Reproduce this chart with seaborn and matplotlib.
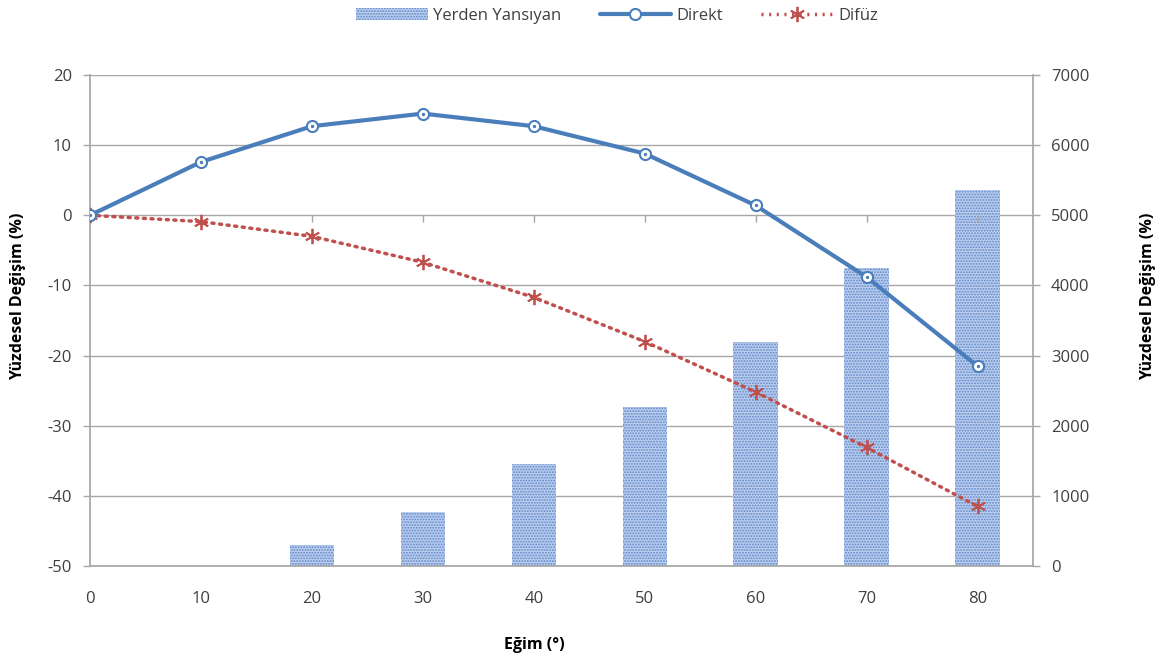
import matplotlib
matplotlib.use("Agg")
import matplotlib.pyplot as plt
import seaborn as sns
import numpy as np
import pandas as pd
from matplotlib.patches import Patch
from matplotlib.lines import Line2D

# ---- data ----
angles = [0, 10, 20, 30, 40, 50, 60, 70, 80]
direkt = [0, 7.6, 12.7, 14.5, 12.7, 8.8, 1.4, -8.8, -21.5]
difuz = [0, -0.9, -3.0, -6.7, -11.7, -18.0, -25.2, -33.1, -41.5]
yansiyan = [0, 0, 300, 770, 1450, 2270, 3190, 4250, 5360]
left_ticks = [20, 10, 0, -10, -20, -30, -40, -50]
right_ticks = [7000, 6000, 5000, 4000, 3000, 2000, 1000, 0]

sns.set_theme(style="white")
plt.rcParams['font.family'] = ['Open Sans', 'DejaVu Sans']
plt.rcParams['axes.unicode_minus'] = False
plt.rcParams['hatch.linewidth'] = 0.9

BLUE = "#4a7ebb"
RED = "#c0504d"
GRID = "#a6a6a6"
TXT = "#404040"
BARFACE = "#bccdec"
BARHATCH = "#5b88cc"

fig = plt.figure(figsize=(11.70, 6.63), dpi=100)
ax = fig.add_axes([90/1170, 1-566/663, (1033-90)/1170, (566-75)/663])
ax2 = ax.twinx()

# bars on right axis
df = pd.DataFrame({"x": angles, "y": yansiyan})
sns.barplot(data=df, x="x", y="y", native_scale=True, width=0.4, ax=ax2,
            color=BARFACE, linewidth=0, saturation=1)
for p in ax2.patches:
    p.set_hatch("......")
    p.set_edgecolor(BARHATCH)
    p.set_linewidth(0)

ax2.set_ylim(0, 7000)
ax2.set_yticks(right_ticks)
ax2.set_yticklabels([str(t) for t in right_ticks])
ax2.yaxis.grid(True, color=GRID, linewidth=1)
ax2.set_axisbelow(True)
ax2.set_xlim(0, 85)

# lines on left axis, drawn above bars
ax.set_zorder(ax2.get_zorder() + 1)
ax.patch.set_visible(False)
ld = pd.DataFrame({"x": angles, "direkt": direkt, "difuz": difuz})
sns.lineplot(data=ld, x="x", y="direkt", ax=ax, color=BLUE, linewidth=3,
             marker="o", markersize=8, markerfacecolor="white",
             markeredgecolor=BLUE, markeredgewidth=1.5, zorder=5)
sns.lineplot(data=ld, x="x", y="difuz", ax=ax, color=RED, linewidth=2.5,
             linestyle=(0, (0.6, 1.6)), dash_capstyle="round",
             marker=(6, 2, 0), markersize=11, markeredgecolor=RED,
             markeredgewidth=1.3, zorder=4)
ax.scatter(angles, direkt, s=2, color=BLUE, zorder=6)

ax.set_xlim(0, 85)
ax.set_ylim(-50, 20)
ax.set_yticks(left_ticks)
ax.set_xticks(angles)
ax.set_xticklabels([str(a) for a in angles])
ax.tick_params(axis="x", length=0, pad=18, labelsize=12, labelcolor=TXT)
ax.tick_params(axis="y", length=5, width=1, color=GRID, direction="out",
               left=True, pad=8, labelsize=12, labelcolor=TXT)
ax2.tick_params(axis="y", length=5, width=1, color=GRID, direction="out",
                right=True, pad=8, labelsize=12, labelcolor=TXT)
ax2.tick_params(axis="x", length=0)

for a in (ax, ax2):
    for s in a.spines.values():
        s.set_visible(False)
ax.spines["left"].set_visible(True)
ax.spines["left"].set_color(GRID)
ax.spines["bottom"].set_visible(True)
ax.spines["bottom"].set_color(GRID)
ax2.spines["right"].set_visible(True)
ax2.spines["right"].set_color(GRID)

# horizontal axis line at 0 with tick marks
sec = ax.secondary_xaxis(50/70)
sec.set_xticks(angles)
sec.tick_params(axis="x", length=5, width=1, color=GRID, direction="out", labelbottom=False, labeltop=False)
sec.spines["bottom"].set_color(GRID)
sec.spines["top"].set_visible(False)
sec.xaxis.set_ticks_position("bottom")
sec.set_xticklabels([])

ax.set_xlabel("Eğim (°)", fontsize=11.5, fontweight="bold", color="black")
ax.set_ylabel("Yüzdesel Değişim (%)", fontsize=11.5, fontweight="bold", color="black")
ax2.set_ylabel("Yüzdesel Değişim (%)", fontsize=11.5, fontweight="bold", color="black")
ax.xaxis.set_label_coords((534-90)/943, -(645-566)/491)
ax.yaxis.set_label_coords((18-90)/943, (566-296)/491)
ax2.yaxis.set_label_coords((1148-90)/943, (566-296)/491)
ax.xaxis.label.set_va("center")
ax.yaxis.label.set_va("center")
ax2.yaxis.label.set_va("center")

handles = [
    Patch(facecolor=BARFACE, edgecolor=BARHATCH, hatch="......", linewidth=0),
    Line2D([], [], color=BLUE, linewidth=3, marker="o", markersize=8,
           markerfacecolor="white", markeredgecolor=BLUE, markeredgewidth=1.5),
    Line2D([], [], color=RED, linewidth=2.5, linestyle=(0, (0.6, 1.6)),
           marker=(6, 2, 0), markersize=11, markeredgecolor=RED, markeredgewidth=1.3),
]
fig.legend(handles, ["Yerden Yansıyan", "Direkt", "Difüz"], loc="center",
           bbox_to_anchor=(617/1170, 1-16/663), ncol=3, frameon=False,
           fontsize=12, handlelength=4.3, columnspacing=2.3, handletextpad=0.3,
           labelcolor=TXT)

fig.savefig("out.png", dpi=100)
